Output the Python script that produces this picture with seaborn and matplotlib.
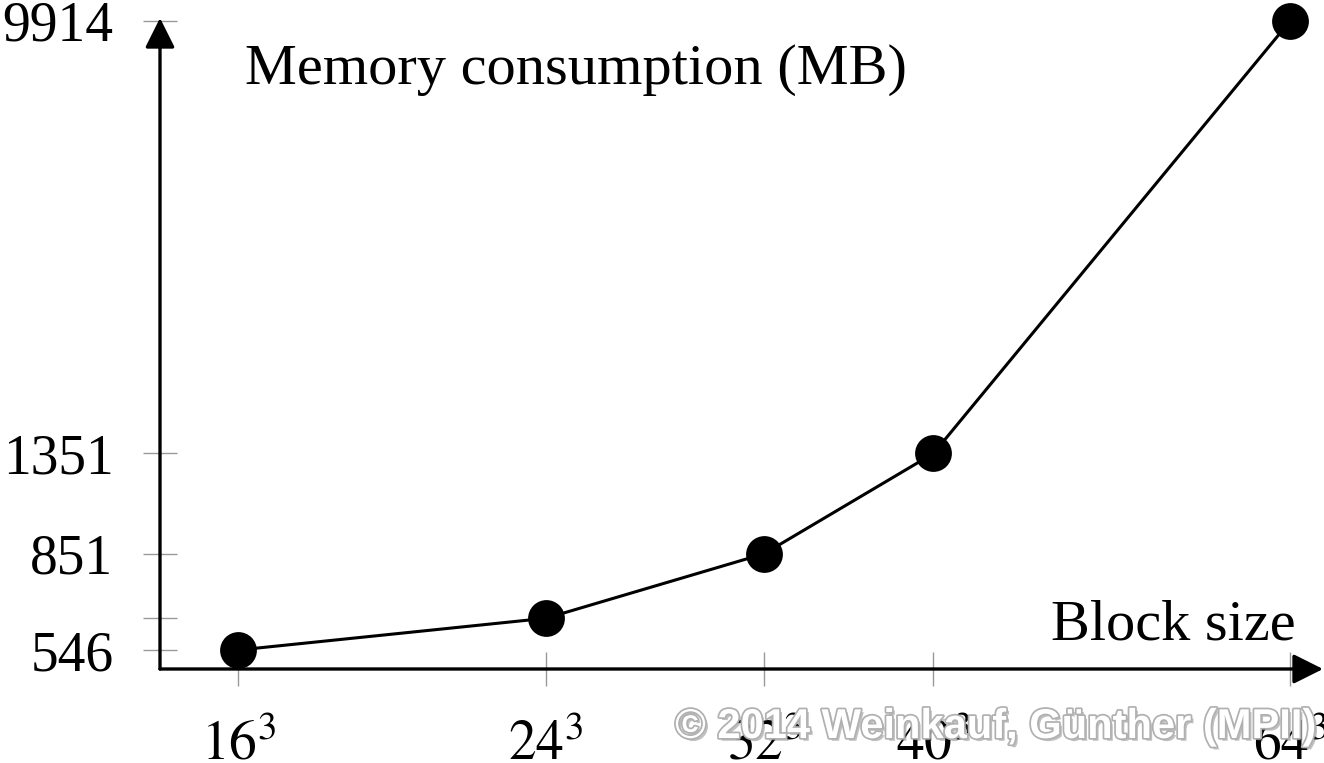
import matplotlib
matplotlib.use("Agg")
import matplotlib.pyplot as plt
import matplotlib.patheffects as pe
from matplotlib.ticker import NullLocator
import seaborn as sns
import pandas as pd

# block sizes (voxels per block) and memory use in MB
block_sizes = [4096, 13824, 32768, 64000, 262144]
block_labels = [r"$16^3$", r"$24^3$", r"$32^3$", r"$40^3$", r"$64^3$"]
memory_mb = [546, 632, 851, 1351, 9914]
memory_labels = ["546", "", "851", "1351", "9914"]

sns.set_theme(style="white")
plt.rcParams["font.family"] = ["Liberation Serif", "DejaVu Serif"]
plt.rcParams["mathtext.fontset"] = "stix"
plt.rcParams["text.color"] = "black"

df = pd.DataFrame({"block": block_sizes, "memory": memory_mb})

fig = plt.figure(figsize=(13.24, 7.63), dpi=100)
ax = fig.add_axes([160 / 1324, 94 / 763, 1163 / 1324, 651 / 763])
ax.set_xscale("log")
ax.set_yscale("log")

sns.lineplot(data=df, x="block", y="memory", ax=ax, color="black", lw=2.2,
             marker="o", markersize=26.5, markeredgewidth=0, clip_on=False)

ax.set_xlim(3008, 298540)
ax.set_ylim(500.3, 10052)

ax.set_xticks(block_sizes)
ax.set_xticklabels(block_labels)
ax.set_yticks(memory_mb)
ax.set_yticklabels(memory_labels)
ax.xaxis.set_minor_locator(NullLocator())
ax.yaxis.set_minor_locator(NullLocator())
ax.tick_params(axis="both", bottom=True, left=True, direction="inout", length=25,
               width=1, color="#999999", labelsize=40, labelcolor="black")
ax.tick_params(axis="y", pad=21)
ax.tick_params(axis="x", pad=24)
ax.set_xlabel("")
ax.set_ylabel("")

for s in ax.spines.values():
    s.set_visible(False)

# axis arrows
arrow = dict(arrowstyle="-|>,head_length=1.3,head_width=0.65", mutation_scale=14,
             color="black", lw=2.4, shrinkA=0, shrinkB=0)
ax.annotate("", xy=(1, 0), xytext=(0, 0), xycoords="axes fraction", arrowprops=arrow)
ax.annotate("", xy=(0, 1), xytext=(0, 0), xycoords="axes fraction", arrowprops=arrow)

fig.text(245 / 1324, 1 - 84 / 763, "Memory consumption (MB)", fontsize=42,
         ha="left", va="baseline", color="black")
fig.text(1296 / 1324, 1 - 640 / 763, "Block size", fontsize=42,
         ha="right", va="baseline", color="black")

# watermark
fig.text(1316 / 1324, 1 - 727 / 763, "© 2014 Weinkauf, Günther (MPII)",
         family="Liberation Sans", weight="bold", fontsize=30, color="white",
         ha="right", va="center", zorder=10,
         path_effects=[pe.SimplePatchShadow(offset=(2, -2), alpha=0.35),
                       pe.Stroke(linewidth=2.5, foreground="#b0b0b0"),
                       pe.Normal()])

fig.savefig("out.png", dpi=100)
